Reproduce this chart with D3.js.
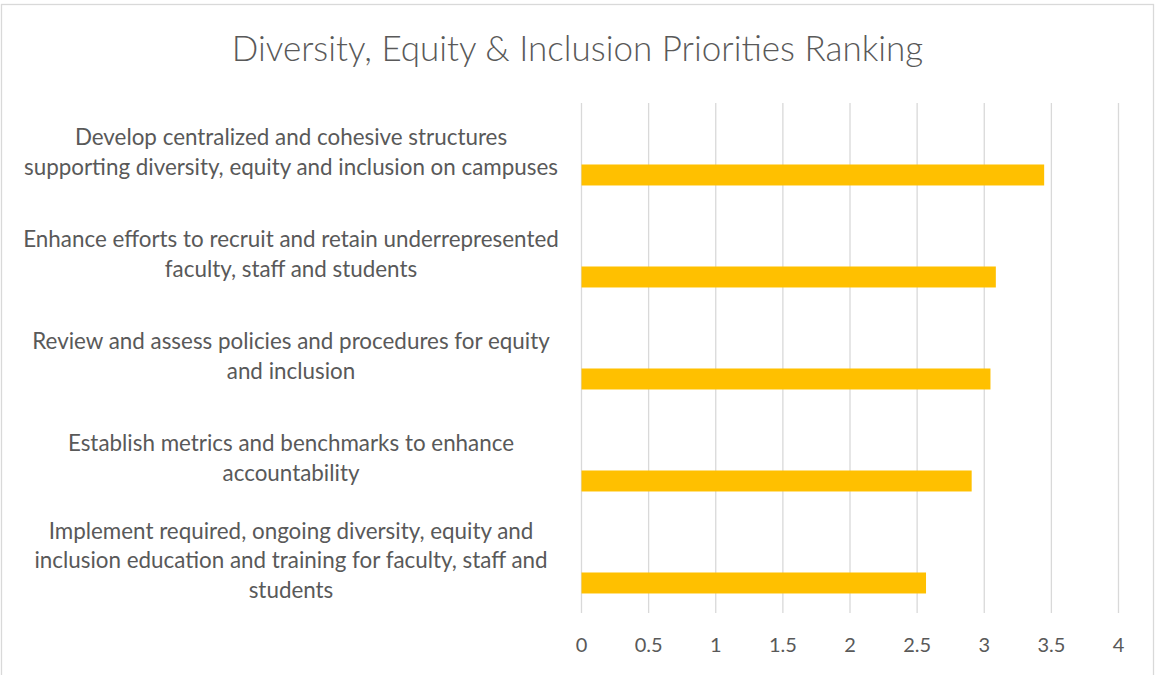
<!DOCTYPE html>
<html>
<head>
<meta charset="utf-8">
<script src="https://cdn.jsdelivr.net/npm/d3@7"></script>
<style>
  body { margin: 0; background: #fff; }
  text { font-family: Lato, "Open Sans", sans-serif; fill: #595959; }
</style>
</head>
<body>
<svg id="chart" width="1155" height="675"></svg>
<script>
// Chart content
const chartTitle = "Diversity, Equity & Inclusion Priorities Ranking";
const categories = [
  "Develop centralized and cohesive structures\nsupporting diversity, equity and inclusion on campuses",
  "Enhance efforts to recruit and retain underrepresented\nfaculty, staff and students",
  "Review and assess policies and procedures for equity\nand inclusion",
  "Establish metrics and benchmarks to enhance\naccountability",
  "Implement required, ongoing diversity, equity and\ninclusion education and training for faculty, staff and\nstudents"
];
const rankingValues = [3.45, 3.09, 3.05, 2.91, 2.57];
const xTickValues = [0, 0.5, 1, 1.5, 2, 2.5, 3, 3.5, 4];
// Each category row holds three series slots; only the last one carries the ranking
const seriesSlots = ["slotA", "slotB", "ranking"];

const svg = d3.select("#chart");
const W = 1155, H = 675;
const plot = { left: 581, right: 1118, top: 103, bottom: 613 };

// Outer frame
svg.append("rect")
  .attr("x", 1.5).attr("y", 4.5)
  .attr("width", 1152).attr("height", H + 10)
  .attr("fill", "#fff").attr("stroke", "#d9d9d9").attr("stroke-width", 1.3);

const x = d3.scaleLinear().domain([0, 4]).range([plot.left, plot.right]);
const y = d3.scaleBand().domain(categories).range([plot.top, plot.bottom]).padding(0);
const ySlot = d3.scaleBand().domain(seriesSlots).range([0, y.bandwidth()])
  .paddingInner(0).paddingOuter(0.93);

// Title
svg.append("text")
  .attr("x", 577.5).attr("y", 61)
  .attr("text-anchor", "middle")
  .style("font-size", "35px")
  .style("font-weight", 300)
  .text(chartTitle);

// Vertical gridlines + tick labels via axis
const xAxis = d3.axisBottom(x).tickValues(xTickValues)
  .tickSize(-(plot.bottom - plot.top)).tickPadding(25)
  .tickFormat(d3.format("~g"));
const gx = svg.append("g")
  .attr("transform", `translate(0,${plot.bottom})`)
  .call(xAxis);
gx.select(".domain").remove();
gx.selectAll(".tick line").attr("stroke", "#d9d9d9").attr("stroke-width", 1.3);
gx.selectAll(".tick text")
  .attr("fill", "#595959")
  .style("font-size", "20px")
  .style("font-family", "Lato, 'Open Sans', sans-serif");

// Bars
svg.append("g").selectAll("rect")
  .data(categories.map((c, i) => ({ c, v: rankingValues[i] })))
  .join("rect")
  .attr("x", x(0) + 0.5)
  .attr("y", d => y(d.c) + ySlot("ranking"))
  .attr("width", d => x(d.v) - x(0) - 0.5)
  .attr("height", ySlot.bandwidth())
  .attr("fill", "#FFC000");

// Category labels (centered, multi-line)
const lineH = 29.7;
const labels = svg.append("g").selectAll("text")
  .data(categories)
  .join("text")
  .attr("text-anchor", "middle")
  .style("font-size", "22.4px")
  .attr("x", 291)
  .attr("y", d => y(d) + y.bandwidth() / 2);
labels.each(function (d) {
  const lines = d.split("\n");
  const t = d3.select(this);
  const cy = +t.attr("y");
  lines.forEach((ln, i) => {
    t.append("tspan")
      .attr("x", 291)
      .attr("y", cy + (i - (lines.length - 1) / 2) * lineH - 1.5)
      .attr("dy", "0.35em")
      .text(ln);
  });
});
</script>
</body>
</html>
